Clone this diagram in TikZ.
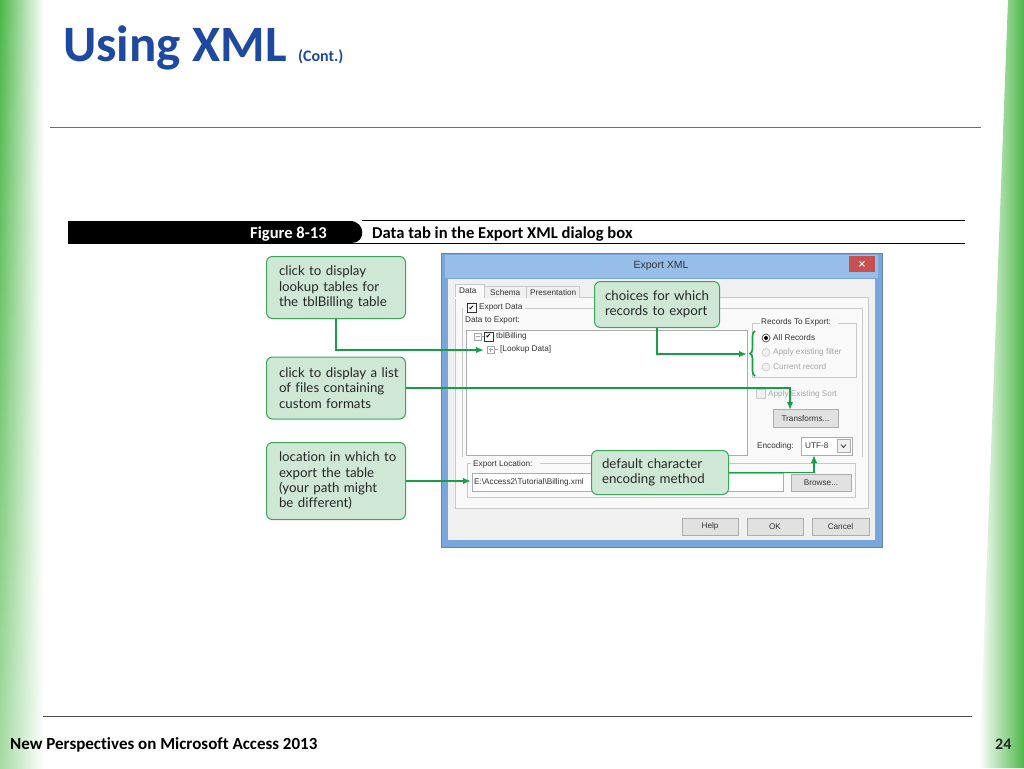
\documentclass[tikz,border=0pt]{standalone}
\usepackage{fontspec}
\setmainfont[Ligatures=NoCommon]{Carlito}
\newfontfamily\callfont[Ligatures=NoCommon]{Lato}
\newfontfamily\uifont{Liberation Sans}
\newfontfamily\symfont{DejaVu Sans}
\usetikzlibrary{arrows.meta,decorations.pathreplacing,fadings}
\definecolor{sidegreen}{RGB}{76,184,72}
\definecolor{titleblue}{RGB}{31,73,160}
\definecolor{rulegray}{RGB}{110,110,110}
\definecolor{callfill}{RGB}{207,232,213}
\definecolor{callborder}{RGB}{60,165,90}
\definecolor{conngreen}{RGB}{24,158,72}
\definecolor{framebl}{RGB}{122,166,220}
\definecolor{titlebl}{RGB}{150,190,232}
\definecolor{clientgray}{RGB}{240,240,240}
\definecolor{linegray}{RGB}{200,200,200}
\definecolor{uitext}{RGB}{50,50,50}
\definecolor{uidis}{RGB}{165,165,165}
\definecolor{btnfill}{RGB}{225,225,225}
\definecolor{btnline}{RGB}{172,172,172}
\definecolor{closered}{RGB}{200,80,80}
\newcommand{\cind}{\hspace*{6pt}}
\newcommand{\sind}{\hspace*{4pt}}
\tikzset{
  callout/.style={rectangle, rounded corners=6pt, draw=callborder, fill=callfill,
    line width=1pt, anchor=north west, align=left, inner xsep=0pt, inner ysep=0pt,
    font=\callfont\fontsize{13.3}{15.3}\selectfont, text=black!85},
  conn/.style={draw=conngreen, line width=1.6pt, -{Latex[length=8pt,width=6.5pt]}},
  uitxt/.style={anchor=west, inner sep=0pt, font=\uifont\fontsize{8.2}{9}\selectfont, text=uitext},
  uidisabled/.style={uitxt, text=uidis},
  uibtn/.style={draw=btnline, fill=btnfill, line width=0.6pt},
  btnlabel/.style={inner sep=0pt, font=\uifont\fontsize{8.2}{9}\selectfont, text=uitext},
  grp/.style={draw=linegray, line width=0.6pt},
}
\begin{document}
\begin{tikzpicture}[x=1pt,y=-1pt]
\useasboundingbox (0,0) rectangle (1024,768);
\fill[white] (0,0) rectangle (1024,768);
% side bars
\shade[left color=sidegreen, right color=white] (0,0) rectangle (44,768);
\fill[white, fill opacity=0.5, path fading=north] (0,0) rectangle (44,768);
\begin{scope}
  \clip (1008,0) -- (1024,0) -- (1024,768) -- (979,768) -- cycle;
  \shade[left color=white, right color=sidegreen] (979,0) rectangle (1024,768);
\end{scope}
% title
\node[anchor=base west, inner sep=0pt, font=\fontsize{51}{51}\selectfont\bfseries, text=titleblue] (title) at (63,62) {Using XML};
\node[anchor=base west, inner sep=0pt, font=\fontsize{16}{16}\selectfont\bfseries, text=titleblue] (cont) at ([xshift=11pt]title.base east) {(Cont.)};
\draw[rulegray, line width=1.5pt] (50,127.5) -- (981,127.5);
% figure header
\fill[black] (68,221) -- (350,221) .. controls (366,221) and (366,243) .. (352,243) -- (68,243) -- cycle;
\draw[black, line width=0.7pt] (362,220.5) -- (965,220.5);
\draw[black, line width=0.9pt] (68,243.5) -- (965,243.5);
\node[anchor=base west, inner sep=0pt, font=\fontsize{16.6}{17}\selectfont\bfseries, text=white] (fignum) at (250,238) {Figure 8-13};
\node[anchor=base west, inner sep=0pt, font=\fontsize{16.6}{17}\selectfont\bfseries, text=black] (figcap) at (372,238) {Data tab in the Export XML dialog box};
% dialog frame
\fill[framebl] (441,253) rectangle (882,547);
\fill[titlebl] (445,255) rectangle (878,278);
\draw[framebl!80!black, line width=0.6pt] (441,253) rectangle (882,547);
\node[inner sep=0pt, font=\uifont\fontsize{10.5}{11}\selectfont, text=uitext] (dlgtitle) at (661,266) {Export XML};
\fill[closered] (849,256) rectangle (875,272);
\node[inner sep=0pt, font=\symfont\fontsize{10}{10}\selectfont\bfseries, text=white] (closex) at (862,264) {×};
\fill[clientgray] (448,279) rectangle (875,540);
% tab panel
\filldraw[fill=white!60!clientgray, draw=linegray, line width=0.6pt] (455,297.5) rectangle (868,508);
\filldraw[fill=white!60!clientgray, draw=linegray, line width=0.6pt] (455,298) -- (455,284) -- (484,284) -- (484,298);
\fill[white!60!clientgray] (455.4,296.5) rectangle (483.6,299);
\filldraw[fill=clientgray, draw=linegray, line width=0.6pt] (484,298) -- (484,286) -- (526,286) -- (526,298);
\filldraw[fill=clientgray, draw=linegray, line width=0.6pt] (526,298) -- (526,286) -- (579,286) -- (579,298);
\node[uitxt] (tabdata) at (459,291) {Data};
\node[uitxt] (tabschema) at (490,292.5) {Schema};
\node[uitxt] (tabpres) at (530,292.5) {Presentation};
% export data group
\draw[grp] (525,308) -- (862,308) -- (862,457);
\draw[grp] (462,308) -- (462,457);
\filldraw[fill=white, draw=uitext, line width=0.6pt] (467,303.5) rectangle (476,312.5);
\node[inner sep=0pt, font=\symfont\fontsize{7}{7}\selectfont, text=black] (chk1) at (471.5,308) {✔};
\node[uitxt] (expdata) at (479,308) {Export Data};
\node[uitxt] (datato) at (465,321) {Data to Export:};
% list box
\filldraw[fill=white, draw=btnline, line width=0.6pt] (466,330) rectangle (747,455);
\draw[uidis, line width=0.5pt] (474,333) rectangle (481,340);
\draw[uidis, line width=0.5pt] (475.5,336.5) -- (479.5,336.5);
\draw[uidis, line width=0.5pt] (481,336.5) -- (484,336.5);
\filldraw[fill=white, draw=uitext, line width=0.6pt] (484,332) rectangle (493,341);
\node[inner sep=0pt, font=\symfont\fontsize{7}{7}\selectfont, text=black] (chk2) at (488.5,336.5) {✔};
\node[uitxt] (tblbilling) at (496,336.5) {tblBilling};
\draw[uidis, line width=0.5pt] (487,346) rectangle (494,353);
\draw[uidis, line width=0.5pt] (488.5,349.5) -- (492.5,349.5) (490.5,347.5) -- (490.5,351.5);
\draw[uidis, line width=0.5pt] (494,349.5) -- (498,349.5);
\node[uitxt] (lookup) at (500,349.5) {[Lookup Data]};
% records to export group
\draw[grp] (752,323) rectangle (856,377);
\fill[clientgray!50!white] (760,317) rectangle (838,327);
\node[uitxt] (recto) at (761,322.5) {Records To Export:};
\filldraw[fill=white, draw=uitext, line width=0.6pt] (766,338) circle (4pt);
\fill[black] (766,338) circle (2pt);
\node[uitxt] (allrec) at (773,338) {All Records};
\filldraw[fill=clientgray, draw=linegray, line width=0.6pt] (766,352.5) circle (4pt);
\node[uidisabled] (applyfilter) at (773,352.5) {Apply existing filter};
\filldraw[fill=clientgray, draw=linegray, line width=0.6pt] (766,367) circle (4pt);
\node[uidisabled] (currec) at (773,367) {Current record};
% apply sort & transforms
\filldraw[fill=clientgray, draw=linegray, line width=0.6pt] (756,389.5) rectangle (765,398.5);
\node[uidisabled] (applysort) at (768,394) {Apply Existing Sort};
\filldraw[uibtn] (773,409.5) rectangle (838,427);
\node[btnlabel] (transforms) at (805.5,418.5) {Transforms...};
% encoding
\node[uitxt] (encoding) at (757,446) {Encoding:};
\filldraw[fill=white, draw=btnline, line width=0.6pt] (801,437) rectangle (852,455);
\node[uitxt] (utf) at (805,445.5) {UTF-8};
\filldraw[fill=clientgray, draw=btnline, line width=0.5pt] (837,439.5) rectangle (850,452.5);
\draw[uitext, line width=0.8pt] (841,444.5) -- (843.5,447.5) -- (846,444.5);
% export location group
\draw[grp] (467,497) rectangle (855,463);
\fill[clientgray!50!white] (471,459) rectangle (540,468);
\node[uitxt] (exploc) at (473,464) {Export Location:};
\filldraw[fill=white, draw=btnline, line width=0.6pt] (472,473) rectangle (783,491);
\node[uitxt] (path) at (474,482) {E:\textbackslash Access2\textbackslash Tutorial\textbackslash Billing.xml};
\filldraw[uibtn] (791,474) rectangle (851,491);
\node[btnlabel] (browse) at (821,482.5) {Browse...};
% bottom buttons
\filldraw[uibtn] (682,518) rectangle (738,535);
\node[btnlabel] (help) at (710,526.5) {Help};
\filldraw[uibtn] (747,518) rectangle (803,535);
\node[btnlabel] (ok) at (775,526.5) {OK};
\filldraw[uibtn] (812,518) rectangle (869,535);
\node[btnlabel] (cancel) at (840.5,526.5) {Cancel};
% brace
\draw[conngreen, line width=1.6pt, decorate, decoration={brace, amplitude=5pt}] (755,376) -- (755,331);
% callouts
\node[callout, minimum width=139pt, minimum height=62pt, text width=126pt] (c1) at (266,256) {\cind click to display\\\cind lookup tables for\\\cind the tblBilling table};
\node[callout, minimum width=139pt, minimum height=62pt, text width=126pt] (c2) at (266,356.5) {\cind click to display a list\\\cind of files containing\\\cind custom formats};
\node[callout, minimum width=139pt, minimum height=77pt, text width=126pt] (c3) at (266,442) {\cind location in which to\\\cind export the table\\\cind (your path might\\\cind be different)};
\node[callout, minimum width=125pt, minimum height=46pt, text width=112pt] (c4) at (594,281) {\sind choices for which\\\sind records to export};
\node[callout, minimum width=137pt, minimum height=44pt, text width=124pt] (c5) at (591,450) {\sind default character\\\sind encoding method};
% targets
\coordinate (tLookup) at (484,350);
\coordinate (tTrans) at (790,410);
\coordinate (tLoc) at (471,481);
\coordinate (tBrace) at (747,354);
\coordinate (tUTF) at (814,455);
\draw[conn] (c1.south) |- (tLookup);
\draw[conn] (c2.east) -| (tTrans);
\draw[conn] (c3.east) -- (tLoc);
\draw[conn] (c4.south) |- (tBrace);
\draw[conn] (c5.east) -| (tUTF);
% footer
\draw[rulegray!70!black, line width=1pt] (43,716.5) -- (972,716.5);
\node[anchor=base west, inner sep=0pt, font=\fontsize{17}{17}\selectfont\bfseries, text=black] (foot) at (10,749) {New Perspectives on Microsoft Access 2013};
\node[anchor=base west, inner sep=0pt, font=\fontsize{16}{16}\selectfont\bfseries, text=black!85] (pagenum) at (995,749) {24};
\end{tikzpicture}
\end{document}
